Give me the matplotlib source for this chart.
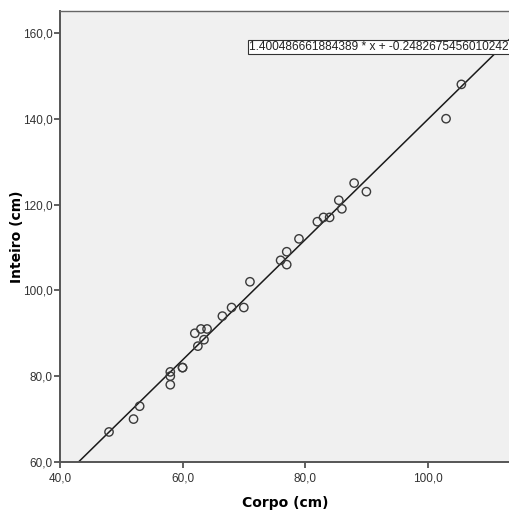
import numpy as np
import matplotlib
matplotlib.use('Agg')
from matplotlib import pyplot as plt
from matplotlib.ticker import FuncFormatter

# Corpo (cm) vs Inteiro (cm)
corpo = [48, 52, 53, 58, 58, 58, 60, 60, 62, 62.5, 63, 63.5, 64,
         66.5, 68, 70, 71, 76, 77, 77, 79, 82, 83, 84, 85.5, 86,
         88, 90, 103, 105.5]
inteiro = [67, 70, 73, 81, 80, 78, 82, 82, 90, 87, 91, 88.5, 91,
           94, 96, 96, 102, 107, 109, 106, 112, 116, 117, 117, 121, 119,
           125, 123, 140, 148]

slope = 1.400486661884389
intercept = -0.2482675456010242
eq_text = '1.400486661884389 * x + -0.2482675456010242'

xticks = [40, 60, 80, 100]
yticks = [60, 80, 100, 120, 140, 160]

fig = plt.figure(figsize=(5.10, 5.11), dpi=100)
ax = fig.add_axes([60 / 510, 49 / 511, 451 / 510, 451 / 511])
ax.set_facecolor('#f0f0f0')

xlim = (40, 113.6)
ylim = (60, 165.1)

xs = np.array(xlim)
ax.plot(xs, slope * xs + intercept, color='#1a1a1a', lw=1.1, zorder=2)
ax.scatter(corpo, inteiro, s=36, facecolors='none', edgecolors='#3a3a3a',
           linewidths=1.0, zorder=3)

ax.text(70.85, 156.7, eq_text, ha='left', va='center', fontsize=8.6,
        family='Liberation Sans', color='#222222',
        bbox=dict(boxstyle='square,pad=0.12', fc='white', ec='#333333', lw=0.8),
        clip_on=False, zorder=4)

ax.set_xlim(xlim)
ax.set_ylim(ylim)
ax.set_xticks(xticks)
ax.set_yticks(yticks)
fmt = FuncFormatter(lambda v, p: ('%.1f' % v).replace('.', ','))
ax.xaxis.set_major_formatter(fmt)
ax.yaxis.set_major_formatter(fmt)
ax.tick_params(axis='both', direction='out', length=4.5, width=1.2,
               color='#444444', labelsize=8.5, labelcolor='#333333')
ax.tick_params(axis='x', pad=3)
ax.tick_params(axis='y', pad=1)
for lab in ax.get_xticklabels() + ax.get_yticklabels():
    lab.set_family('Liberation Sans')

ax.spines['right'].set_visible(False)
ax.spines['top'].set_color('#666666')
ax.spines['top'].set_linewidth(1.0)
for s in ['left', 'bottom']:
    ax.spines[s].set_color('#555555')
    ax.spines[s].set_linewidth(1.4)

ax.set_xlabel('Corpo (cm)', fontsize=10, fontweight='bold', labelpad=8)
ax.set_ylabel('Inteiro (cm)', fontsize=10, fontweight='bold')
ax.yaxis.set_label_coords(-0.08, 0.5)

fig.savefig('out.png', dpi=100)
